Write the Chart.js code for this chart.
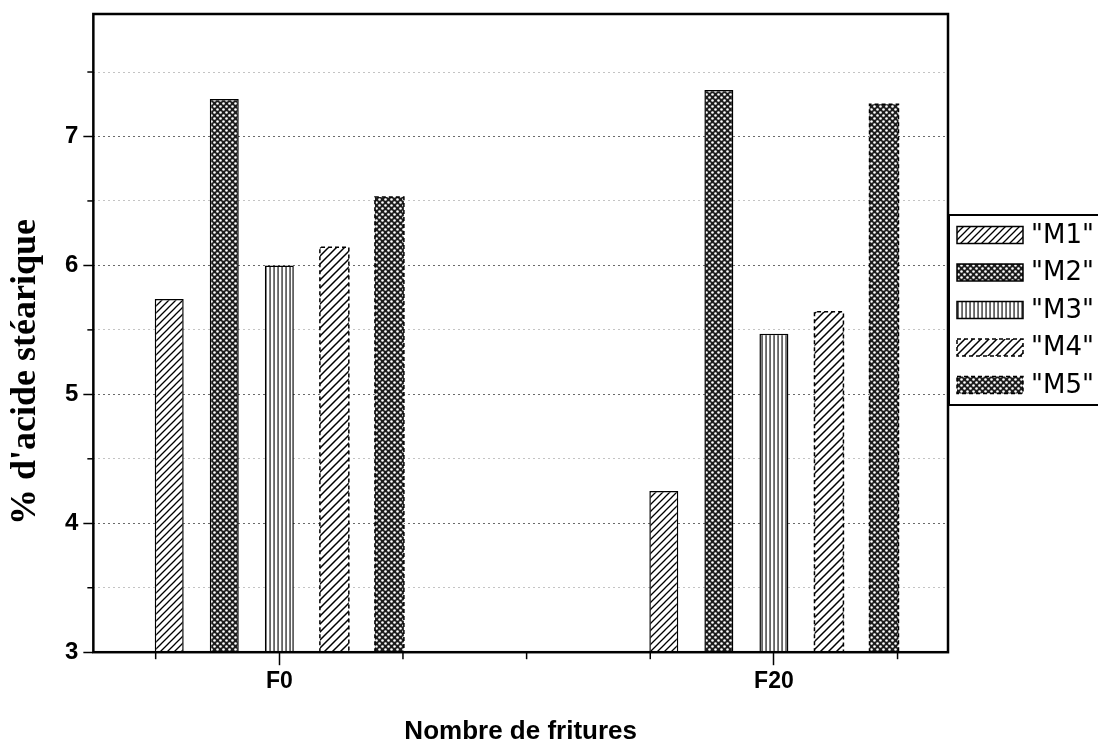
<!DOCTYPE html>
<html>
<head>
<meta charset="utf-8">
<script src="https://cdn.jsdelivr.net/npm/chart.js@4/dist/chart.umd.min.js"></script>
<style>
  html, body { margin: 0; padding: 0; background: #fff; }
  #wrap { width: 1098px; height: 747px; }
</style>
</head>
<body>
<div id="wrap"><canvas id="graphAcide"></canvas></div>
<script>
// données
const categories = ['F0', 'F20'];
const seriesNames = ['"M1"', '"M2"', '"M3"', '"M4"', '"M5"'];
const m1 = [5.74, 4.25];
const m2 = [7.29, 7.36];
const m3 = [6.00, 5.47];
const m4 = [6.14, 5.64];
const m5 = [6.53, 7.25];
const yMin = 3, yMax = 7.95;

// motifs de remplissage (hachures, points, lignes verticales)
function makeTile(size, draw) {
  const c = document.createElement('canvas');
  c.width = size; c.height = size;
  const g = c.getContext('2d');
  draw(g, size);
  return g.createPattern(c, 'repeat');
}
function hatch(size, lw) {
  return makeTile(size, (g, s) => {
    g.fillStyle = '#fff'; g.fillRect(0, 0, s, s);
    g.strokeStyle = '#000'; g.lineWidth = lw;
    g.beginPath();
    g.moveTo(-1, s + 1); g.lineTo(s + 1, -1);
    g.moveTo(-1, 1); g.lineTo(1, -1);
    g.moveTo(s - 1, s + 1); g.lineTo(s + 1, s - 1);
    g.stroke();
  });
}
function dots() {
  return makeTile(6, (g, s) => {
    g.fillStyle = '#1c1c1c'; g.fillRect(0, 0, s, s);
    g.fillStyle = '#fff';
    [[1.5, 1.5], [4.5, 4.5]].forEach(p => {
      g.beginPath(); g.arc(p[0], p[1], 1.3, 0, Math.PI * 2); g.fill();
    });
  });
}
function vlines() {
  return makeTile(4, (g, s) => {
    g.fillStyle = '#fff'; g.fillRect(0, 0, s, s);
    g.fillStyle = '#000'; g.fillRect(1.5, 0, 1.1, s);
  });
}

const fills = [hatch(7, 1.3), dots(), vlines(), hatch(8, 1.5), dots()];
const dashed = [false, false, false, true, true];
const values = [m1, m2, m3, m4, m5];

const datasets = seriesNames.map((name, i) => ({
  label: name,
  data: values[i].map((v, k) => ({ x: k + 1, y: v })),
  backgroundColor: fills[i],
  borderColor: '#000',
  borderWidth: dashed[i] ? 0 : 1.5,
  dashedBorder: dashed[i]
}));

const isMajor = v => Math.abs(v - Math.round(v)) < 1e-6;
const tickIsMajor = c => !c.tick || isMajor(c.tick.value);

const framePlugin = {
  id: 'frame',
  afterDatasetsDraw(chart) {
    const ctx = chart.ctx;
    const a = chart.chartArea;
    // bordures en tirets pour M4 et M5
    chart.data.datasets.forEach((ds, i) => {
      if (!ds.dashedBorder) return;
      chart.getDatasetMeta(i).data.forEach(el => {
        const p = el.getProps(['x', 'y', 'base', 'width'], true);
        const l = p.x - p.width / 2, r = p.x + p.width / 2;
        const b = Math.min(p.base, a.bottom);
        ctx.save();
        ctx.strokeStyle = '#000';
        ctx.lineWidth = 1.5;
        ctx.setLineDash([4, 3]);
        ctx.beginPath();
        ctx.moveTo(l, b); ctx.lineTo(l, p.y); ctx.lineTo(r, p.y); ctx.lineTo(r, b);
        ctx.stroke();
        ctx.restore();
      });
    });
  },
  afterDraw(chart) {
    const ctx = chart.ctx;
    const a = chart.chartArea;
    ctx.save();
    // cadre
    ctx.strokeStyle = '#000';
    ctx.lineWidth = 2.5;
    ctx.strokeRect(a.left, a.top, a.right - a.left, a.bottom - a.top);
    // petites graduations
    ctx.lineWidth = 1.5;
    const ys = chart.scales.y, xs = chart.scales.x;
    ys.ticks.forEach(t => {
      if (isMajor(t.value)) return;
      const py = ys.getPixelForValue(t.value);
      ctx.beginPath(); ctx.moveTo(a.left - 6, py); ctx.lineTo(a.left, py); ctx.stroke();
    });
    xs.ticks.forEach(t => {
      if (isMajor(t.value)) return;
      const px = xs.getPixelForValue(t.value);
      ctx.beginPath(); ctx.moveTo(px, a.bottom); ctx.lineTo(px, a.bottom + 7); ctx.stroke();
    });
    // titre de l'axe Y
    ctx.translate(26, 372);
    ctx.rotate(-Math.PI / 2);
    ctx.font = 'bold 36px "Liberation Serif", "Times New Roman", serif';
    ctx.fillStyle = '#000';
    ctx.textAlign = 'center';
    ctx.textBaseline = 'middle';
    ctx.fillText("% d'acide stéarique", 0, 0);
    ctx.restore();

    // légende encadrée
    const lx = a.right + 1, ly = 215, rowH = 37.5;
    ctx.save();
    ctx.strokeStyle = '#000';
    ctx.lineWidth = 2;
    ctx.strokeRect(lx, ly, 200, 190);
    chart.data.datasets.forEach((ds, i) => {
      const cy = ly + 20 + i * rowH;
      const bx = lx + 8, by = cy - 8.5, bw = 66, bh = 17;
      ctx.fillStyle = ds.backgroundColor;
      ctx.fillRect(bx, by, bw, bh);
      ctx.lineWidth = 1.5;
      ctx.setLineDash(ds.dashedBorder ? [4, 3] : []);
      ctx.strokeRect(bx, by, bw, bh);
      ctx.setLineDash([]);
      ctx.fillStyle = '#000';
      ctx.font = '26px "DejaVu Sans", Arial, sans-serif';
      ctx.textAlign = 'left';
      ctx.textBaseline = 'middle';
      ctx.fillText(ds.label, bx + bw + 8, cy + 1);
    });
    ctx.restore();
  }
};

document.addEventListener('DOMContentLoaded', function () {
  const ctx = document.getElementById('graphAcide').getContext('2d');

  new Chart(ctx, {
    type: 'bar',
    data: { datasets: datasets },
    options: {
      responsive: true,
      maintainAspectRatio: false,
      animation: false,
      layout: { padding: { left: 60, right: 150, top: 14, bottom: 0 } },
      categoryPercentage: 2.226,
      barPercentage: 0.526,
      plugins: {
        legend: { display: false },
        tooltip: { enabled: false }
      },
      scales: {
        x: {
          type: 'linear',
          offset: false,
          min: 0.624,
          max: 2.352,
          afterBuildTicks: scale => {
            scale.ticks = [0.75, 1, 1.25, 1.5, 1.75, 2, 2.25].map(v => ({ value: v }));
          },
          ticks: {
            autoSkip: false,
            maxRotation: 0,
            padding: 3,
            color: '#000',
            font: { family: '"Liberation Sans", Arial, sans-serif', size: 23, weight: 'bold' },
            callback: v => isMajor(v) ? categories[Math.round(v) - 1] : ''
          },
          grid: {
            offset: false,
            drawOnChartArea: false,
            tickLength: 13,
            tickWidth: 1.5,
            tickColor: c => tickIsMajor(c) ? '#000' : 'rgba(0,0,0,0)'
          },
          border: { display: false },
          title: {
            display: true,
            text: 'Nombre de fritures',
            color: '#000',
            font: { family: '"Liberation Sans", Arial, sans-serif', size: 26, weight: 'bold' },
            padding: { top: 17, bottom: 0 }
          }
        },
        y: {
          min: yMin,
          max: yMax,
          afterFit: scale => { scale.paddingTop = 0; scale.paddingBottom = 0; },
          ticks: {
            stepSize: 0.5,
            includeBounds: false,
            padding: 5,
            color: '#000',
            font: { family: '"Liberation Sans", Arial, sans-serif', size: 24, weight: 'bold' },
            callback: v => isMajor(v) ? v : ''
          },
          grid: {
            color: c => tickIsMajor(c) ? '#6a6a6a' : '#c4c4c4',
            lineWidth: 1,
            tickLength: 10,
            tickWidth: 1.5,
            tickColor: c => tickIsMajor(c) ? '#000' : 'rgba(0,0,0,0)'
          },
          border: { display: false, dash: [2, 3] }
        }
      }
    },
    plugins: [framePlugin]
  });
});
</script>
</body>
</html>
